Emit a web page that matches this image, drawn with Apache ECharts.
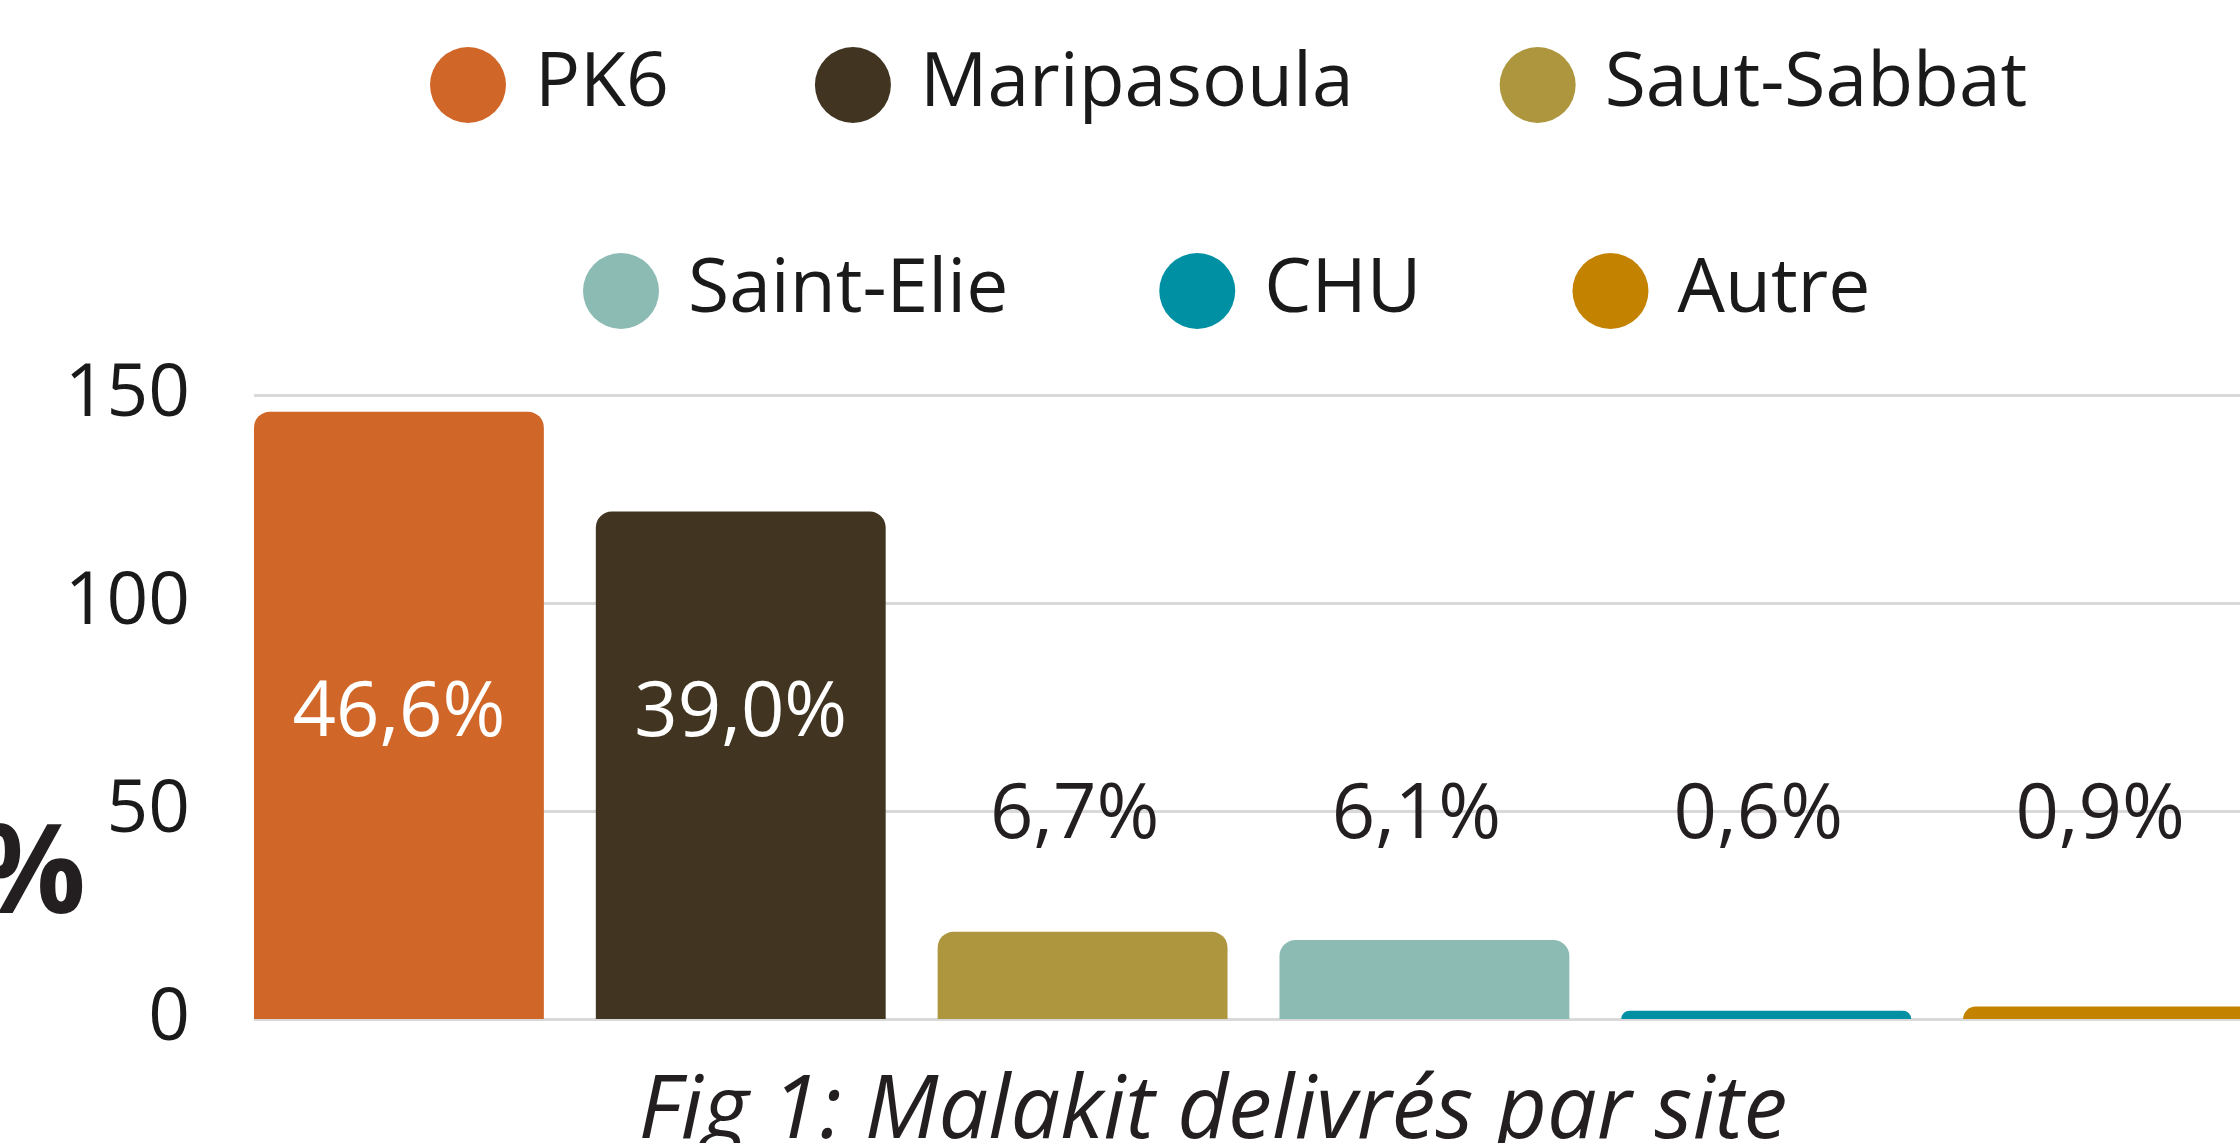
<!DOCTYPE html>
<html>
<head>
<meta charset="utf-8">
<script src="https://cdn.jsdelivr.net/npm/echarts@6/dist/echarts.min.js"></script>
<style>
html,body{margin:0;padding:0;background:#fff;}
#chart{width:2240px;height:1143px;}
</style>
</head>
<body>
<div id="chart"></div>
<script>
// ---- data ----
const categories = ['PK6', 'Maripasoula', 'Saut-Sabbat', 'Saint-Elie', 'CHU', 'Autre'];
const values = [146, 122, 21, 19, 2, 3];
const percentLabels = ['46,6%', '39,0%', '6,7%', '6,1%', '0,6%', '0,9%'];
const yTickValues = [0, 50, 100, 150];
const captionText = 'Fig 1: Malakit delivrés par site';
const axisTitle = '%';

// ---- styles ----
const colors = ['#D06628', '#413522', '#AE963E', '#8CBBB4', '#0090A4', '#C38300'];
const FONT = '"Open Sans", "Noto Sans", sans-serif';
const GRID_TOP = 395, GRID_BOTTOM_Y = 1019;
const GRID_H = GRID_BOTTOM_Y - GRID_TOP;
const Y_MIN = yTickValues[0], Y_MAX = yTickValues[yTickValues.length - 1];
const Y_INT = yTickValues[1] - yTickValues[0];
const PPU = GRID_H / (Y_MAX - Y_MIN);
// label rows (pixel y) : white labels inside big bars, dark labels for small bars
const ROW_INSIDE = 714, ROW_OUTSIDE = 816;

const chart = echarts.init(document.getElementById('chart'), null, {renderer: 'canvas'});

const series = categories.map((name, i) => {
  const data = categories.map((c, j) => (j === i ? values[i] : null));
  const inside = i < 2;
  const barCenterY = GRID_BOTTOM_Y - values[i] * PPU / 2;
  const target = inside ? ROW_INSIDE : ROW_OUTSIDE;
  return {
    name: name,
    type: 'bar',
    xAxisIndex: 1,
    yAxisIndex: 1,
    data: data,
    barGap: '-100%',
    barCategoryGap: '15.2%',
    itemStyle: {color: colors[i], borderRadius: [16, 16, 0, 0]},
    label: {
      show: true,
      position: 'inside',
      offset: [inside ? 0 : -8, target - barCenterY],
      formatter: () => percentLabels[i],
      color: inside ? '#ffffff' : '#231f20',
      fontFamily: FONT,
      fontSize: 76
    },
    emphasis: {disabled: true},
    z: 3
  };
});

const legendCommon = {
  icon: 'circle',
  itemWidth: 76,
  itemHeight: 76,
  itemGap: 146,
  selectedMode: false,
  textStyle: {fontFamily: FONT, fontSize: 75, color: '#1a1a1a', padding: [0, 0, 0, 24]}
};

chart.setOption({
  animation: false,
  backgroundColor: '#ffffff',
  legend: [
    Object.assign({}, legendCommon, {data: categories.slice(0, 3), left: 425, top: 42}),
    Object.assign({}, legendCommon, {data: categories.slice(3), left: 578, top: 248, itemGap: 151})
  ],
  grid: [
    {left: 254, right: 0, top: GRID_TOP, height: GRID_H, outerBoundsMode: 'none', containLabel: false},
    {left: 228, width: 2051, top: GRID_TOP, height: GRID_H, outerBoundsMode: 'none', containLabel: false}
  ],
  xAxis: [
    {gridIndex: 0, type: 'value', min: 0, max: 1, show: false},
    {gridIndex: 1, type: 'category', data: categories, show: false}
  ],
  yAxis: [
    {
      gridIndex: 0, type: 'value', min: Y_MIN, max: Y_MAX, interval: Y_INT,
      axisLine: {show: false}, axisTick: {show: false},
      axisLabel: {fontFamily: FONT, fontSize: 73, color: '#1a1a1a', margin: 64},
      splitLine: {lineStyle: {color: '#d9d9d9', width: 3}}
    },
    {
      gridIndex: 1, type: 'value', min: Y_MIN, max: Y_MAX, interval: Y_INT,
      show: false, splitLine: {show: false}
    }
  ],
  graphic: [
    {
      type: 'text',
      style: {
        text: axisTitle, x: 86, y: 878,
        textAlign: 'right', textVerticalAlign: 'middle',
        align: 'right', verticalAlign: 'middle',
        font: 'bold 124px ' + FONT, fill: '#231f20'
      }
    },
    {
      type: 'text',
      style: {
        text: captionText, x: 1213, y: 1113,
        textAlign: 'center', textVerticalAlign: 'middle',
        align: 'center', verticalAlign: 'middle',
        font: 'italic 88px ' + FONT, fill: '#231f20'
      }
    }
  ],
  series: series
});
</script>
</body>
</html>
